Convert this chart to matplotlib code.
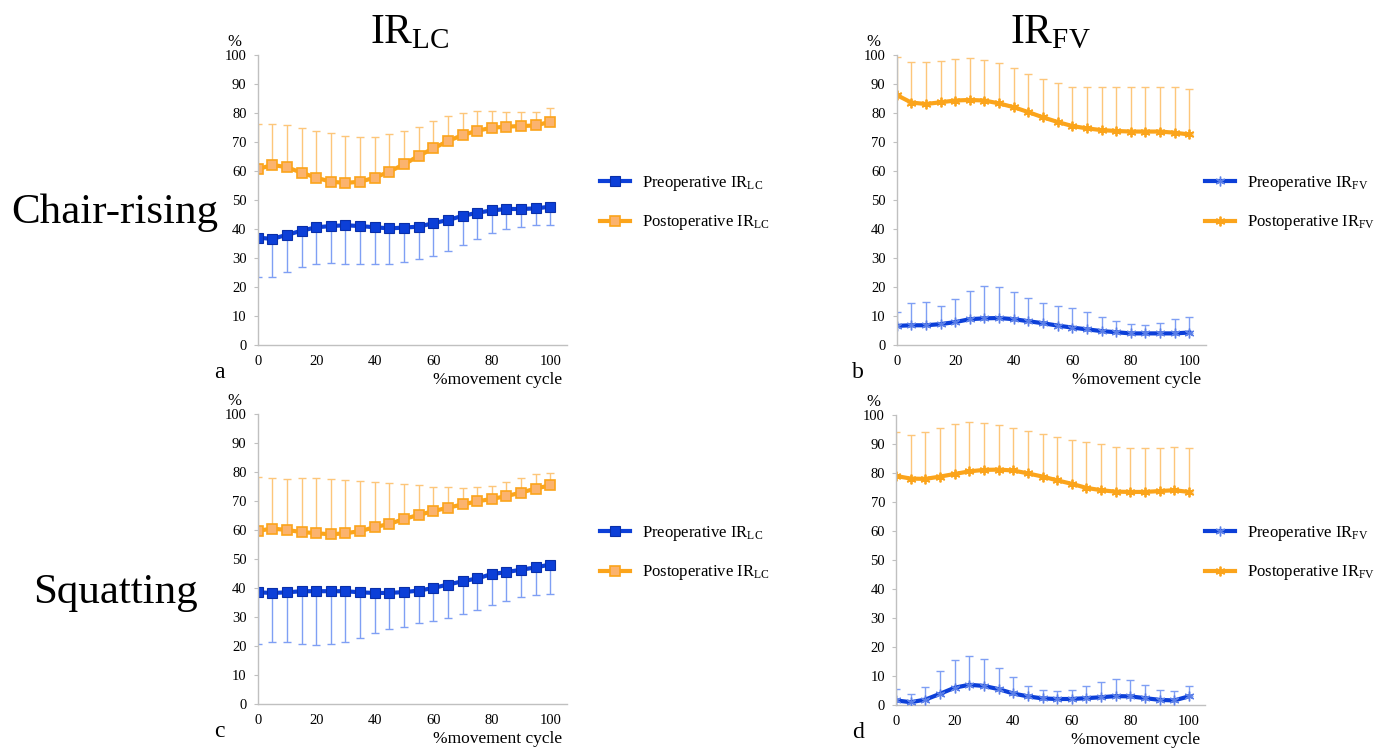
import numpy as np
import matplotlib
matplotlib.use('Agg')
import matplotlib.pyplot as plt

plt.rcParams['font.family'] = ['Liberation Serif', 'DejaVu Serif']
plt.rcParams['mathtext.fontset'] = 'custom'
plt.rcParams['mathtext.rm'] = 'Liberation Serif'
plt.rcParams['mathtext.it'] = 'Liberation Serif:italic'

# %movement cycle
cycle = np.arange(0, 101, 5)

# a: chair-rising IR_LC
a_pre = [37.0, 36.6, 38.0, 39.4, 40.6, 41.0, 41.3, 41.0, 40.6, 40.2, 40.5,
         40.8, 42.0, 43.1, 44.5, 45.6, 46.4, 46.9, 46.9, 47.1, 47.7]
a_pre_sd = [13.4, 13.0, 12.7, 12.6, 12.8, 12.8, 13.5, 13.2, 12.8, 12.4, 12.0,
            11.3, 11.2, 10.6, 10.0, 9.0, 7.9, 7.0, 6.1, 5.7, 6.3]
a_post = [60.6, 62.1, 61.3, 59.4, 57.7, 56.3, 55.9, 56.3, 57.7, 59.8, 62.3,
          65.2, 67.8, 70.3, 72.4, 73.9, 74.9, 75.3, 75.5, 75.7, 77.0]
a_post_sd = [15.6, 14.1, 14.7, 15.5, 16.1, 16.7, 16.3, 15.5, 14.1, 12.8, 11.5,
             10.1, 9.4, 8.6, 7.5, 6.9, 5.9, 5.2, 4.7, 4.8, 4.6]

# b: chair-rising IR_FV
b_pre = [6.6, 6.8, 6.8, 7.2, 7.9, 8.9, 9.2, 9.3, 8.9, 8.2, 7.5,
         6.7, 6.0, 5.4, 4.8, 4.4, 4.0, 4.0, 4.0, 4.0, 4.3]
b_pre_sd = [4.9, 7.8, 8.1, 6.2, 7.8, 9.8, 11.1, 10.8, 9.5, 8.1, 7.1,
            6.7, 6.6, 5.9, 5.0, 3.9, 3.2, 2.9, 3.5, 4.9, 5.5]
b_post = [86.2, 83.6, 83.1, 83.7, 84.3, 84.5, 84.3, 83.3, 82.0, 80.3, 78.5,
          76.9, 75.5, 74.7, 74.1, 73.8, 73.6, 73.6, 73.6, 73.2, 72.6]
b_post_sd = [13.2, 14.1, 14.4, 14.3, 14.2, 14.4, 14.0, 13.8, 13.6, 13.0, 13.1,
             13.6, 13.6, 14.2, 14.8, 15.1, 15.5, 15.5, 15.5, 15.7, 15.6]

# c: squatting IR_LC
c_pre = [38.6, 38.4, 38.6, 39.0, 39.0, 39.0, 39.0, 38.6, 38.4, 38.4, 38.7,
         39.2, 40.1, 41.3, 42.4, 43.4, 44.9, 45.6, 46.4, 47.2, 48.2]
c_pre_sd = [17.9, 17.0, 17.2, 18.2, 18.5, 18.1, 17.4, 15.6, 13.7, 12.5, 12.0,
            11.3, 11.4, 11.6, 11.3, 10.9, 10.7, 10.1, 9.5, 9.6, 10.2]
c_post = [59.8, 60.6, 60.1, 59.4, 59.0, 58.6, 59.0, 59.7, 61.1, 62.2, 63.9,
          65.3, 66.6, 67.8, 68.9, 70.0, 70.8, 71.8, 73.0, 74.4, 75.5]
c_post_sd = [18.7, 17.3, 17.6, 18.5, 18.9, 19.1, 18.4, 17.4, 15.6, 14.2, 12.1,
             10.2, 8.5, 7.0, 5.6, 4.8, 4.6, 5.0, 5.2, 5.0, 4.3]

# d: squatting IR_FV
d_pre = [1.5, 0.9, 1.8, 3.8, 5.9, 6.9, 6.5, 5.4, 3.9, 2.9, 2.2,
         2.0, 2.0, 2.3, 2.6, 3.0, 2.9, 2.3, 1.7, 1.5, 2.9]
d_pre_sd = [4.0, 2.7, 4.3, 7.8, 9.7, 9.9, 9.4, 7.4, 5.7, 3.6, 2.8,
            2.6, 3.2, 4.2, 5.1, 6.0, 5.7, 4.6, 3.3, 3.1, 3.7]
d_post = [78.9, 78.0, 77.9, 78.7, 79.6, 80.5, 81.0, 81.1, 80.8, 79.8, 78.7,
          77.4, 76.2, 74.8, 74.0, 73.5, 73.4, 73.4, 73.7, 74.0, 73.4]
d_post_sd = [15.3, 14.9, 16.0, 16.9, 17.3, 17.0, 16.1, 15.3, 14.5, 14.6, 14.6,
             15.1, 15.2, 15.8, 15.9, 15.3, 15.1, 15.1, 14.8, 14.8, 15.1]

BLUE = '#0c3fd8'
ORANGE = '#fba41b'
LBLUE = '#7f9ff4'
LORANGE = '#fdc67a'
W, H = 1385, 749


def px(x0, y0, x1, y1):
    # pixel box -> figure fraction [left, bottom, width, height]
    return [x0 / W, 1 - y1 / H, (x1 - x0) / W, (y1 - y0) / H]


def panel(box, pre, pre_sd, post, post_sd, kind, pre_down, letter, leg_xy):
    ax = fig.add_axes(box)
    zeros = np.zeros(len(cycle))
    pre_err = [pre_sd, zeros] if pre_down else [zeros, pre_sd]
    ax.errorbar(cycle, pre, yerr=pre_err, fmt='none', ecolor=LBLUE,
                elinewidth=1, capsize=3, capthick=1, zorder=2)
    ax.errorbar(cycle, post, yerr=[zeros, post_sd], fmt='none', ecolor=LORANGE,
                elinewidth=1, capsize=3, capthick=1, zorder=2)
    sub = 'LC' if kind == 'sq' else 'FV'
    if kind == 'sq':
        ax.plot(cycle, pre, color=BLUE, lw=3, marker='s', ms=7,
                mfc=BLUE, mec='#0a2fa8', mew=0.8, zorder=3,
                label='Preoperative IR$_{\\mathrm{%s}}$' % sub)
        ax.plot(cycle, post, color=ORANGE, lw=3, marker='s', ms=7,
                mfc='#fbb36e', mec=ORANGE, mew=1.2, zorder=3,
                label='Postoperative IR$_{\\mathrm{%s}}$' % sub)
    else:
        ax.plot(cycle, pre, color=BLUE, lw=3, marker=(6, 2, 0), ms=7,
                mec='#5b7fe8', mew=1.0, zorder=3,
                label='Preoperative IR$_{\\mathrm{%s}}$' % sub)
        ax.plot(cycle, post, color=ORANGE, lw=3, marker=(6, 2, 0), ms=7,
                mec=ORANGE, mew=1.3, zorder=3,
                label='Postoperative IR$_{\\mathrm{%s}}$' % sub)
    ax.set_xlim(0, 105.6)
    ax.set_ylim(0, 100)
    ax.set_xticks(np.arange(0, 101, 20))
    ax.set_yticks(np.arange(0, 101, 10))
    for s in ['top', 'right']:
        ax.spines[s].set_visible(False)
    for s in ['left', 'bottom']:
        ax.spines[s].set_color('#c0c0c0')
        ax.spines[s].set_linewidth(1)
    ax.spines['left'].set_zorder(4)
    ax.tick_params(axis='y', length=3, color='#c0c0c0', labelsize=10.5, pad=5)
    ax.tick_params(axis='x', length=0, labelsize=10.5, pad=7)
    ax.set_clip_on(False)
    ax.text(-0.075, 1.045, '%', transform=ax.transAxes, fontsize=12,
            ha='center', va='center')
    ax.text(0.985, -0.12, '%movement cycle', transform=ax.transAxes,
            fontsize=12.5, ha='right', va='center')
    ax.text(-0.125, -0.095, letter, transform=ax.transAxes, fontsize=17,
            ha='center', va='center')
    ax.legend(loc='center left', bbox_to_anchor=leg_xy,
              bbox_transform=fig.transFigure, frameon=False, fontsize=12,
              handlelength=1.8, handletextpad=0.7, labelspacing=1.25,
              borderpad=0, borderaxespad=0)
    return ax


fig = plt.figure(figsize=(W / 100, H / 100), dpi=100)

panel(px(257.7, 55, 566.7, 345), a_pre, a_pre_sd, a_post, a_post_sd,
      'sq', True, 'a', (600 / W, 1 - 203 / H))
panel(px(896.7, 55, 1205.7, 345), b_pre, b_pre_sd, b_post, b_post_sd,
      'st', False, 'b', (1205 / W, 1 - 203 / H))
panel(px(257.7, 414.3, 566.7, 704.3), c_pre, c_pre_sd, c_post, c_post_sd,
      'sq', True, 'c', (600 / W, 1 - 553 / H))
panel(px(896.2, 414.8, 1205.2, 704.8), d_pre, d_pre_sd, d_post, d_post_sd,
      'st', False, 'd', (1205 / W, 1 - 553 / H))

fig.text(410 / W, 1 - 33 / H, r'IR$_{\mathrm{LC}}$', fontsize=30,
         ha='center', va='center')
fig.text(1050 / W, 1 - 33 / H, r'IR$_{\mathrm{FV}}$', fontsize=30,
         ha='center', va='center')
fig.text(115 / W, 1 - 213 / H, 'Chair-rising', fontsize=31,
         ha='center', va='center')
fig.text(115 / W, 1 - 593 / H, 'Squatting', fontsize=31,
         ha='center', va='center')

fig.savefig('out.png', dpi=100)
